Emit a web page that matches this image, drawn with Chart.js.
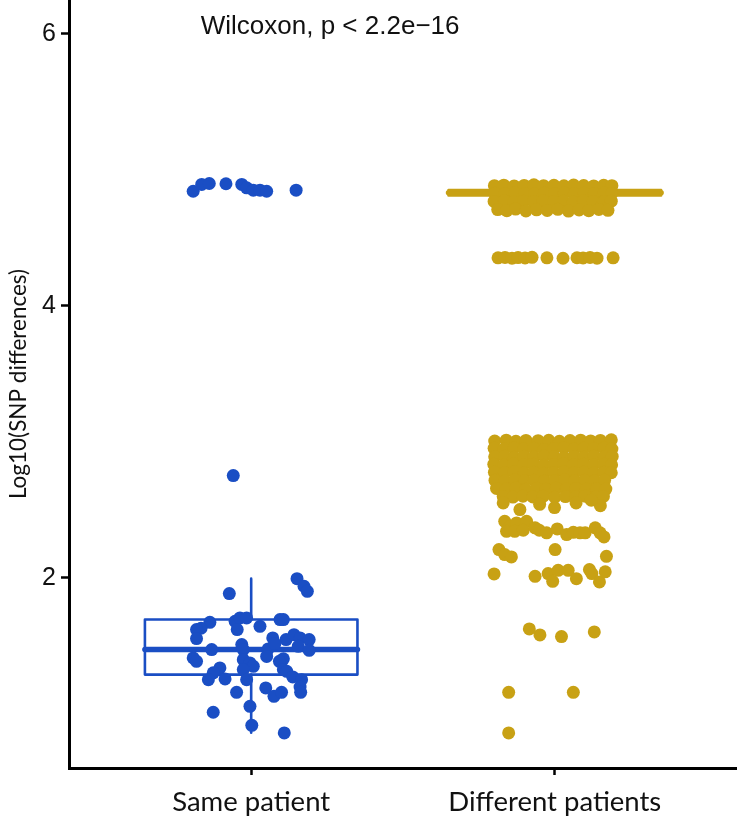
<!DOCTYPE html>
<html>
<head>
<meta charset="utf-8">
<script src="https://cdn.jsdelivr.net/npm/chart.js@4/dist/chart.umd.min.js"></script>
<style>
  body { margin: 0; background: #fff; }
  #wrap { width: 737px; height: 821px; }
</style>
</head>
<body>
<div id="wrap"><canvas id="snpChart" width="737" height="821"></canvas></div>
<script>
const categories = ["Same patient", "Different patients"];
const yTickValues = [2, 4, 6];
const testLabel = "Wilcoxon, p < 2.2e\u221216";

// box stats: [q1, median, q3, lowerWhisker, upperWhisker]
const sameBox = [1.287, 1.471, 1.692, 0.860, 1.993];
const diffBox = [4.812, 4.832, 4.852, 4.812, 4.852];

// jittered points [x, log10 SNP differences]
const samePoints = [
  [0.809,4.843],[0.837,4.893],[0.862,4.900],[0.917,4.898],[0.969,4.893],[0.985,4.868],[1.007,4.851],[1.029,4.851],[1.051,4.843],[1.148,4.851],
  [0.941,2.751],
  [1.151,1.993],[1.174,1.937],[1.185,1.900],[0.928,1.883],
  [0.864,1.672],[0.835,1.628],[0.820,1.618],[0.820,1.552],
  [0.947,1.679],[0.963,1.704],[0.985,1.704],[0.954,1.618],[1.029,1.642],[1.095,1.692],[1.106,1.692],
  [1.071,1.557],[1.115,1.545],[1.141,1.581],[1.161,1.557],[1.191,1.545],
  [1.155,1.495],[1.191,1.466],[0.870,1.471],[0.969,1.508],[0.974,1.471],[1.056,1.476],[1.051,1.421],[1.078,1.515],
  [0.809,1.410],[0.820,1.385],[1.106,1.403],[1.093,1.385],[0.974,1.397],[0.996,1.373],[1.007,1.348],
  [0.897,1.336],[0.875,1.300],[0.859,1.250],[0.914,1.255],[0.974,1.324],[0.985,1.250],[1.106,1.324],[1.117,1.311],
  [1.137,1.270],[1.166,1.250],[1.161,1.196],[1.163,1.157],[0.952,1.157],[1.048,1.189],[1.075,1.127],[1.100,1.157],
  [0.996,1.054],[0.875,1.010],[1.002,0.914],[1.109,0.858]
];

const diffPointsTop = [
  [1.801,4.884],[1.832,4.888],[1.866,4.882],[1.899,4.886],[1.931,4.890],[1.963,4.884],[1.997,4.887],[2.030,4.883],[2.062,4.889],[2.095,4.885],[2.128,4.882],[2.161,4.887],[2.188,4.884],
  [1.803,4.828],[1.835,4.824],[1.868,4.830],[1.900,4.826],[1.933,4.822],[1.966,4.829],[1.999,4.825],[2.031,4.831],[2.064,4.824],[2.097,4.828],[2.130,4.826],[2.163,4.830],[2.187,4.825],
  [1.800,4.768],[1.834,4.772],[1.865,4.765],[1.897,4.770],[1.930,4.766],[1.962,4.771],[1.996,4.767],[2.029,4.769],[2.061,4.764],[2.094,4.772],[2.127,4.768],[2.160,4.765],[2.186,4.770],
  [1.812,4.708],[1.842,4.700],[1.871,4.712],[1.905,4.698],[1.940,4.706],[1.975,4.702],[2.010,4.710],[2.045,4.697],[2.080,4.705],[2.112,4.700],[2.145,4.709],[2.175,4.703],
  [1.813,4.353],[1.836,4.356],[1.859,4.351],[1.879,4.355],[1.902,4.352],[1.925,4.357],[1.974,4.353],[2.027,4.350],[2.073,4.354],[2.093,4.352],[2.116,4.356],[2.139,4.351],[2.192,4.353]
];

const diffPointsLow = [
  [1.802,3.005],[1.840,3.012],[1.872,3.003],[1.905,3.010],[1.945,3.008],[1.980,3.011],[2.015,3.004],[2.050,3.009],[2.085,3.012],[2.118,3.006],[2.150,3.010],[2.186,3.014],
  [1.800,2.952],[1.833,2.946],[1.866,2.955],[1.898,2.948],[1.931,2.953],[1.964,2.944],[1.997,2.951],[2.030,2.956],[2.063,2.947],[2.096,2.952],[2.129,2.949],[2.162,2.954],[2.188,2.946],
  [1.802,2.889],[1.835,2.894],[1.867,2.886],[1.899,2.893],[1.932,2.888],[1.965,2.895],[1.998,2.890],[2.031,2.885],[2.064,2.892],[2.097,2.887],[2.130,2.894],[2.163,2.889],[2.189,2.892],
  [1.799,2.834],[1.832,2.829],[1.864,2.836],[1.897,2.830],[1.930,2.835],[1.963,2.828],[1.996,2.833],[2.029,2.837],[2.062,2.830],[2.095,2.834],[2.128,2.829],[2.161,2.835],[2.187,2.831],
  [1.801,2.775],[1.834,2.770],[1.866,2.777],[1.899,2.771],[1.931,2.776],[1.964,2.769],[1.997,2.774],[2.030,2.778],[2.063,2.772],[2.096,2.776],[2.129,2.770],[2.162,2.775],[2.186,2.772],
  [1.803,2.716],[1.836,2.711],[1.868,2.718],[1.900,2.712],[1.933,2.717],[1.966,2.710],[1.999,2.715],[2.032,2.719],[2.065,2.713],[2.098,2.717],[2.131,2.711],[2.164,2.716],
  [1.808,2.657],[1.840,2.652],[1.872,2.659],[1.905,2.650],[1.940,2.656],[1.972,2.651],[2.005,2.658],[2.038,2.653],[2.070,2.657],[2.104,2.650],[2.137,2.655],[2.168,2.652],
  [1.830,2.598],[1.862,2.593],[1.895,2.600],[1.928,2.594],[1.962,2.599],[2.000,2.592],[2.035,2.597],[2.068,2.595],[2.100,2.600],[2.135,2.594],[2.160,2.598],
  [1.885,2.501],[1.999,2.516],[2.150,2.530],[1.830,2.550],[1.950,2.540],[2.070,2.550],[2.120,2.570],
  [1.835,2.415],[1.852,2.378],[1.874,2.403],[1.907,2.415],[1.841,2.341],[1.868,2.341],[1.896,2.349],
  [1.935,2.367],[1.949,2.349],[1.973,2.330],[2.008,2.359],
  [2.039,2.317],[2.061,2.334],[2.083,2.330],[2.100,2.330],
  [2.133,2.367],[2.149,2.330],[2.162,2.300],
  [1.816,2.207],[1.835,2.170],[1.857,2.153],[2.001,2.207],[2.170,2.157],
  [1.800,2.028],[1.935,2.010],[1.978,2.030],[1.993,1.973],[2.011,2.054],[2.044,2.054],[2.071,1.993],
  [2.114,2.060],[2.122,2.030],[2.147,1.969],[2.166,2.043],
  [1.916,1.623],[1.951,1.579],[2.022,1.567],[2.130,1.601],
  [1.848,1.157],[2.061,1.157],[1.848,0.858]
];

const BLUE = "#1a4ec4";
const GOLD = "#c8a114";
const HALF = 0.35;

function toXY(arr) {
  return arr.map(p => ({ x: p[0], y: p[1] }));
}

// line datasets for one box plot
function boxSets(center, b, color, medWidth) {
  const [q1, med, q3, lo, hi] = b;
  const line = (data, w) => ({
    type: "line", data: data, borderColor: color, borderWidth: w,
    pointRadius: 0, fill: false, tension: 0, borderCapStyle: "round", borderJoinStyle: "round"
  });
  return [
    line([{x:center-HALF,y:q1},{x:center+HALF,y:q1},{x:center+HALF,y:q3},{x:center-HALF,y:q3},{x:center-HALF,y:q1}], 2.6),
    line([{x:center-HALF,y:med},{x:center+HALF,y:med}], medWidth),
    line([{x:center,y:q3},{x:center,y:hi}], 2.6),
    line([{x:center,y:lo},{x:center,y:q1}], 2.6)
  ];
}

const pointStyle = color => ({
  type: "scatter", backgroundColor: color, borderWidth: 0,
  pointRadius: 6.5, pointHoverRadius: 6.5
});

const annotate = {
  id: "annotate",
  afterDraw(chart) {
    const ctx = chart.ctx;
    const xs = chart.scales.x, ys = chart.scales.y;
    ctx.save();
    ctx.font = "26px 'Liberation Sans', Arial, sans-serif";
    ctx.fillStyle = "#111";
    ctx.textAlign = "center";
    ctx.textBaseline = "alphabetic";
    ctx.fillText(testLabel, xs.getPixelForValue(1.26), ys.getPixelForValue(6.0));
    ctx.restore();
  }
};

new Chart(document.getElementById("snpChart"), {
  type: "scatter",
  data: {
    datasets: [
      Object.assign({ data: toXY(samePoints) }, pointStyle(BLUE)),
      Object.assign({ data: toXY(diffPointsTop) }, pointStyle(GOLD)),
      Object.assign({ data: toXY(diffPointsLow) }, pointStyle(GOLD)),
      ...boxSets(1, sameBox, BLUE, 5.5),
      ...boxSets(2, diffBox, GOLD, 5.5)
    ]
  },
  options: {
    responsive: false,
    animation: false,
    layout: { padding: 0, autoPadding: false },
    plugins: { legend: { display: false }, tooltip: { enabled: false } },
    scales: {
      x: {
        type: "linear", min: 0.4, max: 2.6,
        afterBuildTicks: s => { s.ticks = [{ value: 1 }, { value: 2 }]; },
        afterFit: s => { s.height = 53; s.paddingLeft = 0; s.paddingRight = 0; },
        ticks: {
          callback: v => categories[Math.round(v) - 1],
          font: { family: "Lato", size: 27.5 },
          color: "#111", padding: 11, maxRotation: 0, autoSkip: false
        },
        grid: { drawOnChartArea: false, tickLength: 7, tickWidth: 2.5, tickColor: "#000" },
        border: { color: "#000", width: 3 }
      },
      y: {
        min: 0.6, max: 6.25,
        afterBuildTicks: s => { s.ticks = yTickValues.map(v => ({ value: v })); },
        afterFit: s => { s.width = 69; s.paddingTop = 0; s.paddingBottom = 0; },
        ticks: {
          font: { family: "'Liberation Sans'", size: 25 },
          color: "#111", padding: 5
        },
        grid: { drawOnChartArea: false, tickLength: 8, tickWidth: 2.5, tickColor: "#000" },
        border: { color: "#000", width: 3 },
        title: {
          display: true, text: "Log10(SNP differences)",
          font: { family: "Lato", size: 22.5 }, color: "#111",
          padding: { top: 5, bottom: 0 }
        }
      }
    }
  },
  plugins: [annotate]
});
</script>
</body>
</html>
